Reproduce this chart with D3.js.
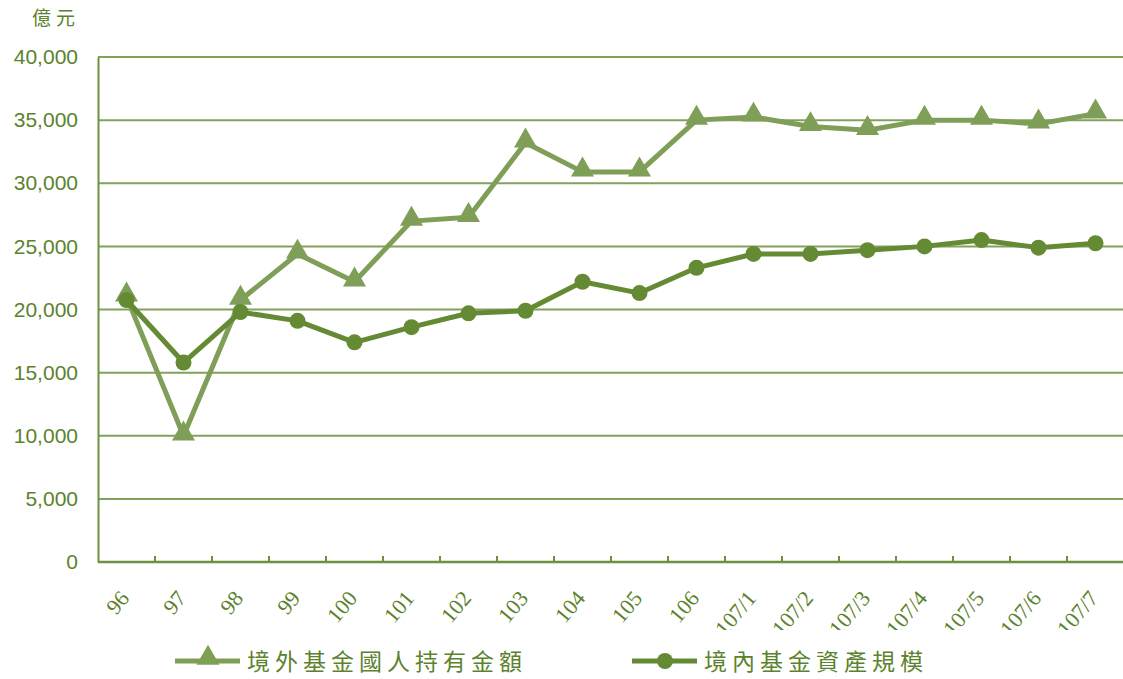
<!DOCTYPE html>
<html>
<head>
<meta charset="utf-8">
<script src="https://cdn.jsdelivr.net/npm/d3@7"></script>
<style>
  html, body { margin: 0; padding: 0; background: #fff; }
  svg { display: block; }
</style>
</head>
<body>
<svg id="chart" width="1123" height="679"></svg>
<script>
// Categories (ROC years, then monthly 107)
const categories = ["96","97","98","99","100","101","102","103","104","105","106",
  "107/1","107/2","107/3","107/4","107/5","107/6","107/7"];
// 境外基金國人持有金額 (億元)
const offshoreHeld = [21000,10000,20750,24400,22200,27000,27300,33200,30900,30900,35000,
  35250,34500,34200,35000,35000,34700,35500];
// 境內基金資產規模 (億元)
const domesticAssets = [20750,15800,19800,19100,17400,18600,19700,19900,22200,21300,23300,
  24400,24400,24700,25000,25500,24900,25250];
const yTicks = [0,5000,10000,15000,20000,25000,30000,35000,40000];
const seriesNames = ["境外基金國人持有金額","境內基金資產規模"];

const svg = d3.select("#chart");
const plotL = 98, plotR = 1124, plotT = 57, plotB = 562;
const gridColor = "#6e9141";
const textColor = "#5b822c";
const lightGreen = "#7f9e57";
const darkGreen = "#658a34";

const x = d3.scaleBand().domain(categories).range([plotL, plotR]);
const y = d3.scaleLinear().domain([0, 40000]).range([plotB, plotT]);

// Horizontal gridlines
svg.append("g")
  .selectAll("line").data(yTicks).join("line")
  .attr("x1", plotL).attr("x2", 1123)
  .attr("y1", d => y(d)).attr("y2", d => y(d))
  .attr("stroke", gridColor).attr("stroke-width", 2).attr("opacity", 0.85);

// Y axis
const yAxis = svg.append("g")
  .attr("transform", `translate(${plotL},0)`)
  .call(d3.axisLeft(y).tickValues(yTicks).tickSize(0).tickPadding(20)
    .tickFormat(d3.format(",")));
yAxis.select(".domain").attr("stroke", gridColor).attr("stroke-width", 2);
yAxis.selectAll("text")
  .attr("fill", textColor)
  .style("font-family", "'Liberation Sans', Arial, sans-serif")
  .style("font-size", "21px");

// X axis with short inward ticks on band boundaries
svg.append("line")
  .attr("x1", plotL).attr("x2", 1123).attr("y1", plotB).attr("y2", plotB)
  .attr("stroke", gridColor).attr("stroke-width", 2.5);
svg.append("g").selectAll("line").data(categories.slice(1)).join("line")
  .attr("x1", d => x(d)).attr("x2", d => x(d))
  .attr("y1", plotB).attr("y2", plotB - 6)
  .attr("stroke", gridColor).attr("stroke-width", 2);

// Rotated category labels (bottom edge trimmed by the legend band)
svg.append("defs").append("clipPath").attr("id", "xlabClip")
  .append("rect").attr("x", 0).attr("y", 565).attr("width", 1123).attr("height", 65);
svg.append("g").attr("clip-path", "url(#xlabClip)")
  .selectAll("text").data(categories).join("text")
  .attr("transform", d => `translate(${x(d) + x.bandwidth() / 2 - 8},${plotB + 27}) rotate(-50)`)
  .attr("text-anchor", "end")
  .attr("dy", "0.7em")
  .attr("fill", textColor)
  .style("font-family", "'Liberation Serif', 'Times New Roman', serif")
  .style("font-size", "22px")
  .text(d => d);

// Unit label
svg.append("text")
  .attr("x", 32).attr("y", 25)
  .attr("fill", textColor)
  .style("font-family", "'Noto Sans CJK TC', sans-serif")
  .style("font-size", "19px")
  .style("letter-spacing", "5px")
  .text("億元");

const cx = d => x(d) + x.bandwidth() / 2;
const line = d3.line().x(d => cx(d.c)).y(d => y(d.v));
const triangle = d3.symbol().type(d3.symbolTriangle).size(230);

// Series: offshore funds held (triangles)
const offData = categories.map((c, i) => ({ c, v: offshoreHeld[i] }));
svg.append("path").datum(offData)
  .attr("d", line).attr("fill", "none")
  .attr("stroke", lightGreen).attr("stroke-width", 5).attr("stroke-linejoin", "round");
svg.append("g").selectAll("path").data(offData).join("path")
  .attr("d", triangle)
  .attr("transform", d => `translate(${cx(d.c)},${y(d.v) - 2})`)
  .attr("fill", lightGreen);

// Series: domestic fund assets (circles)
const domData = categories.map((c, i) => ({ c, v: domesticAssets[i] }));
svg.append("path").datum(domData)
  .attr("d", line).attr("fill", "none")
  .attr("stroke", darkGreen).attr("stroke-width", 5).attr("stroke-linejoin", "round");
svg.append("g").selectAll("circle").data(domData).join("circle")
  .attr("cx", d => cx(d.c)).attr("cy", d => y(d.v)).attr("r", 8)
  .attr("fill", darkGreen);

// Legend
const legend = [
  { name: seriesNames[0], color: lightGreen, shape: "tri", x0: 175 },
  { name: seriesNames[1], color: darkGreen, shape: "circ", x0: 632 }
];
const ly = 661;
legend.forEach(l => {
  const g = svg.append("g");
  g.append("line").attr("x1", l.x0).attr("x2", l.x0 + 65)
    .attr("y1", ly).attr("y2", ly)
    .attr("stroke", l.color).attr("stroke-width", 5);
  if (l.shape === "tri") {
    g.append("path").attr("d", triangle)
      .attr("transform", `translate(${l.x0 + 33},${ly - 3})`).attr("fill", l.color);
  } else {
    g.append("circle").attr("cx", l.x0 + 33).attr("cy", ly).attr("r", 8).attr("fill", l.color);
  }
  g.append("text").attr("x", l.x0 + 72).attr("y", ly + 9)
    .attr("fill", textColor)
    .style("font-family", "'Noto Sans CJK TC', sans-serif")
    .style("font-size", "23px")
    .style("letter-spacing", "5px")
    .text(l.name);
});
</script>
</body>
</html>
